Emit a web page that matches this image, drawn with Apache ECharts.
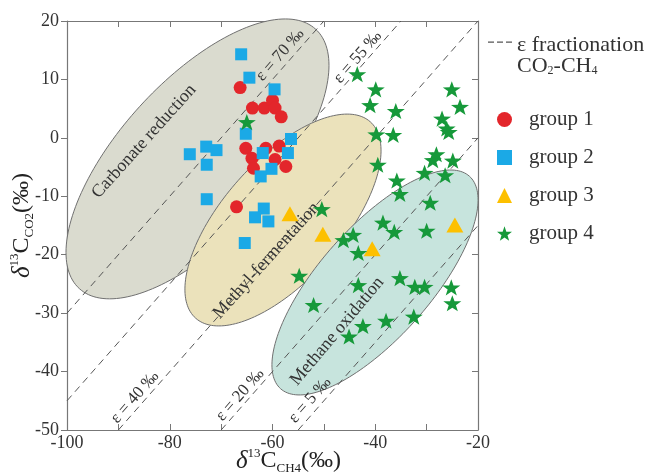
<!DOCTYPE html>
<html>
<head>
<meta charset="utf-8">
<script src="https://cdn.jsdelivr.net/npm/echarts@6/dist/echarts.min.js"></script>
<style>html,body{margin:0;padding:0;background:#fff;}#chart{width:651px;height:472px;}</style>
</head>
<body>
<div id="chart"></div>
<script>
// ---- data ----
const xTicks = [-100, -80, -60, -40, -20];
const yTicks = [20, 10, 0, -10, -20, -30, -40, -50];

const group1 = [[-66.3,8.6],[-63.9,5.1],[-61.6,5.1],[-60.0,6.4],[-59.5,5.1],[-58.3,3.6],[-65.2,-1.8],[-61.3,-1.8],[-58.7,-1.4],[-64.0,-3.5],[-59.5,-3.7],[-57.4,-4.9],[-63.7,-5.2],[-67.0,-11.8]];
const group2 = [[-66.1,14.3],[-64.5,10.3],[-59.6,8.3],[-65.2,0.7],[-76.1,-2.8],[-72.9,-1.5],[-70.9,-2.1],[-72.8,-4.6],[-61.9,-2.6],[-56.4,-0.2],[-57.0,-2.6],[-60.2,-5.3],[-62.3,-6.6],[-72.8,-10.5],[-61.7,-12.1],[-63.4,-13.6],[-60.8,-14.3],[-65.4,-18.0]];
const group3 = [[-56.6,-13.0],[-50.2,-16.5],[-40.6,-19.0],[-24.5,-14.9]];
const group4 = [[-65.0,2.7],[-43.5,10.9],[-39.9,8.3],[-41.0,5.6],[-36.0,4.6],[-39.8,0.6],[-36.5,0.5],[-39.5,-4.6],[-35.8,-7.3],[-25.1,8.3],[-23.5,5.3],[-27.0,3.3],[-26.1,1.6],[-25.7,1.0],[-28.1,-2.8],[-28.8,-3.8],[-24.9,-3.9],[-30.4,-6.0],[-26.4,-6.4],[-35.2,-9.6],[-29.3,-11.1],[-50.4,-12.2],[-38.5,-14.5],[-36.3,-16.1],[-30.0,-15.9],[-44.3,-16.6],[-46.2,-17.5],[-43.3,-19.7],[-54.8,-23.6],[-35.2,-24.0],[-43.3,-25.2],[-32.3,-25.5],[-30.4,-25.5],[-25.2,-25.6],[-25.0,-28.3],[-52.0,-28.6],[-37.9,-31.3],[-42.4,-32.2],[-32.5,-30.6],[-45.1,-34.0]];

// fractionation lines: d13C_CO2 = d13C_CH4 + eps
const epsValues = [70, 55, 40, 20, 5];
const epsLabelPos = [[-58.5,14.2],[-43.4,13.8],[-86.8,-44.4],[-66.3,-44.0],[-52.7,-44.9]];

// genetic regions (ellipses in data units: centre, major and minor semi-axis vectors)
const regionNames = ['Carbonate reduction', 'Methyl-fermentation', 'Methane oxidation'];
const regionCenter = [[-74.6,-3.6],[-57.96,-14.06],[-40.05,-24.75]];
const regionMajor = [[23.0,22.2],[16.99,16.81],[18.37,18.19]];
const regionMinor = [[11.23,-8.99],[8.70,-6.79],[8.06,-6.30]];
const regionLabelPos = [[-85.0,-0.6],[-61.2,-21.0],[-47.4,-33.1]];

// ---- chart ----
const SERIF = '"Liberation Serif","DejaVu Serif",serif';
const regionFill = ['#dadbcf', '#ebe2bb', '#c7e4dd'];
const regionAngle = [48, 48, 50];

const chart = echarts.init(document.getElementById('chart'), null, {renderer: 'canvas'});

function epsSegment(e) {
  const x1 = Math.max(-100, -50 - e), x2 = Math.min(-20, 20 - e);
  return [[x1, x1 + e], [x2, x2 + e]];
}

const starPath = 'path://M50,0L61.8,33.8L97.6,34.5L69.1,56.2L79.4,90.5L50,70L20.6,90.5L30.9,56.2L2.4,34.5L38.2,33.8Z';

const lineSeries = epsValues.map(e => ({
  name: 'ε fractionation', type: 'line', data: epsSegment(e), symbol: 'none',
  color: '#555', itemStyle: {color: '#555'},
  lineStyle: {color: '#555', width: 1, type: [7, 5]}, z: 3, silent: true, animation: false
}));

const axisText = {fontFamily: SERIF, fontSize: 18, color: '#333'};
const nameRich = {
  d: {fontFamily: SERIF, fontStyle: 'italic', fontSize: 25, color: '#222', lineHeight: 28},
  sup: {fontFamily: SERIF, fontSize: 13, color: '#222', lineHeight: 13, verticalAlign: 'top'},
  c: {fontFamily: SERIF, fontSize: 24, color: '#222', lineHeight: 28},
  sub: {fontFamily: SERIF, fontSize: 13, color: '#222', lineHeight: 13, verticalAlign: 'bottom'}
};

const option = {
  backgroundColor: '#fff',
  animation: false,
  grid: {left: 67, right: 173, top: 21, bottom: 42, containLabel: false, outerBoundsMode: 'none'},
  xAxis: [{
    type: 'value', position: 'bottom', min: xTicks[0], max: xTicks[xTicks.length - 1], interval: 10,
    axisLine: {onZero: false, lineStyle: {color: '#777', width: 1.2}},
    axisTick: {inside: true, length: 6, lineStyle: {color: '#777'}},
    axisLabel: {...axisText, margin: 4, formatter: v => xTicks.includes(v) ? String(v) : ''},
    splitLine: {show: false},
    name: '{d|δ}{sup|13}{c|C}{sub|CH4}{c|(‰)}',
    nameLocation: 'middle', nameGap: 17, nameMoveOverlap: false,
    nameTextStyle: {rich: nameRich, padding: [0, 0, 0, 32]}
  }, {
    type: 'value', position: 'top', min: xTicks[0], max: xTicks[xTicks.length - 1], interval: 10,
    axisLine: {onZero: false, lineStyle: {color: '#777', width: 1.2}},
    axisTick: {inside: true, length: 6, lineStyle: {color: '#777'}},
    axisLabel: {show: false}, splitLine: {show: false}
  }],
  yAxis: [{
    type: 'value', position: 'left', min: yTicks[yTicks.length - 1], max: yTicks[0], interval: 10,
    axisLine: {onZero: false, lineStyle: {color: '#777', width: 1.2}},
    axisTick: {inside: false, length: 6, lineStyle: {color: '#777'}},
    axisLabel: {...axisText, margin: 8},
    splitLine: {show: false},
    name: '{d|δ}{sup|13}{c|C}{sub|CO2}{c|(‰)}',
    nameLocation: 'middle', nameGap: 31, nameRotate: 90, nameMoveOverlap: false,
    nameTextStyle: {rich: nameRich}
  }, {
    type: 'value', position: 'right', min: yTicks[yTicks.length - 1], max: yTicks[0], interval: 10,
    axisLine: {onZero: false, lineStyle: {color: '#777', width: 1.2}},
    axisTick: {inside: true, length: 6, lineStyle: {color: '#777'}},
    axisLabel: {show: false}, splitLine: {show: false}
  }],
  legend: [{
    left: 483, top: 29, orient: 'vertical',
    itemWidth: 24, itemHeight: 28,
    data: [{name: 'ε fractionation', icon: 'path://M0,0h6v1.3h-6zM9,0h6v1.3h-6zM18,0h6v1.3h-6zM0,28L0.01,28'}],
    formatter: () => '{t|ε fractionation}\n{t|CO}{s|2}{t|-CH}{s|4}',
    textStyle: {rich: {
      t: {fontFamily: SERIF, fontSize: 22, color: '#333', lineHeight: 21},
      s: {fontFamily: SERIF, fontSize: 12, color: '#333', lineHeight: 12, verticalAlign: 'bottom'}
    }},
    selectedMode: false
  }, {
    left: 492, top: 104, orient: 'vertical',
    itemWidth: 15, itemHeight: 15, itemGap: 17,
    data: ['group 1', 'group 2', 'group 3', 'group 4'],
    textStyle: {fontFamily: SERIF, fontSize: 21, color: '#333', lineHeight: 20, padding: [0, 0, 0, 12]},
    selectedMode: false
  }],
  series: [
    {
      type: 'custom', name: 'regions', z: 1, silent: true,
      data: regionCenter.map(c => [c[0], c[1]]),
      encode: {x: 0, y: 1},
      renderItem: function (params, api) {
        const i = params.dataIndex;
        const c = regionCenter[i], u = regionMajor[i], v = regionMinor[i];
        const pts = [];
        for (let k = 0; k < 180; k++) {
          const t = k / 180 * 2 * Math.PI;
          pts.push(api.coord([c[0] + Math.cos(t) * u[0] + Math.sin(t) * v[0],
                              c[1] + Math.cos(t) * u[1] + Math.sin(t) * v[1]]));
        }
        const lp = api.coord(regionLabelPos[i]);
        return {type: 'group', children: [
          {type: 'polygon', shape: {points: pts}, style: {fill: regionFill[i], stroke: '#707070', lineWidth: 1}},
          {type: 'text', x: lp[0], y: lp[1], rotation: regionAngle[i] * Math.PI / 180,
           style: {text: regionNames[i], fontFamily: SERIF, fontSize: 18, fill: '#333',
                   align: 'center', verticalAlign: 'middle'}}
        ]};
      }
    },
    ...lineSeries,
    {
      type: 'custom', name: 'eps labels', z: 4, silent: true,
      data: epsLabelPos.map(p => [p[0], p[1]]),
      encode: {x: 0, y: 1},
      renderItem: function (params, api) {
        const i = params.dataIndex;
        const p = api.coord(epsLabelPos[i]);
        return {type: 'text', x: p[0], y: p[1], rotation: 48.7 * Math.PI / 180,
          style: {text: 'ε = ' + epsValues[i] + ' ‰', fontFamily: SERIF, fontSize: 17, fill: '#333',
                  align: 'center', verticalAlign: 'middle'}};
      }
    },
    {name: 'group 1', type: 'scatter', data: group1, symbol: 'circle', symbolSize: 13,
     itemStyle: {color: '#e3262b', opacity: 1}, z: 5},
    {name: 'group 2', type: 'scatter', data: group2, symbol: 'rect', symbolSize: 12,
     itemStyle: {color: '#1ba9e6', opacity: 1}, z: 5},
    {name: 'group 3', type: 'scatter', data: group3, symbol: 'triangle', symbolSize: [17, 15],
     itemStyle: {color: '#fdc000', opacity: 1}, z: 5},
    {name: 'group 4', type: 'scatter', data: group4, symbol: starPath, symbolSize: [18, 17], symbolKeepAspect: true,
     itemStyle: {color: '#16993a', opacity: 1}, z: 5}
  ]
};
chart.setOption(option);
</script>
</body>
</html>
